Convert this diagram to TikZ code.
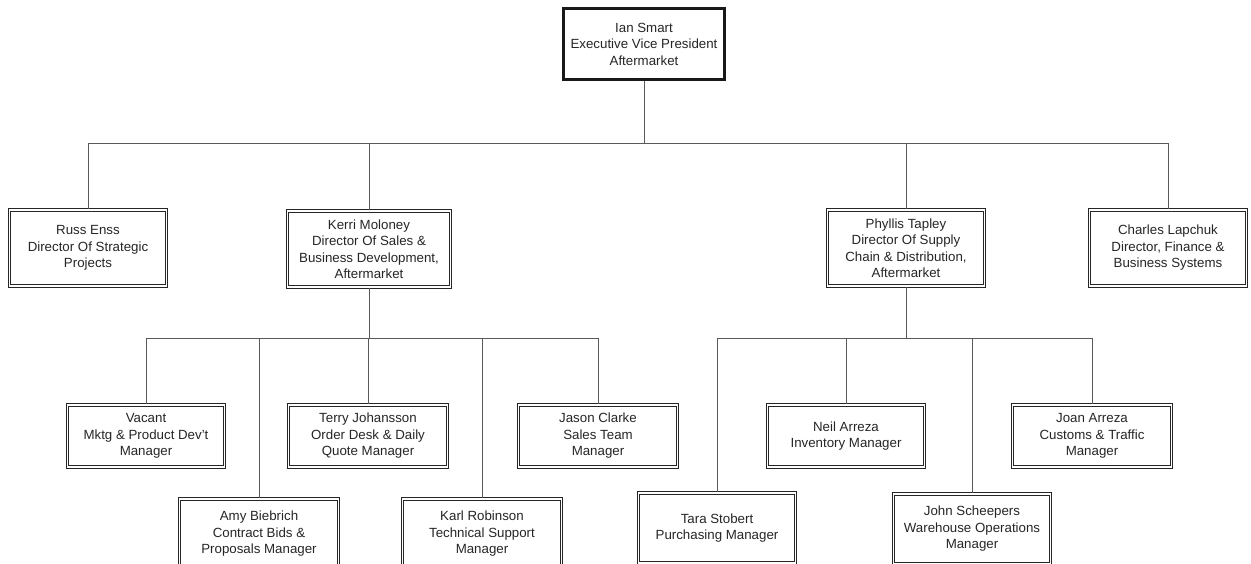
\documentclass[tikz,border=0pt]{standalone}
\usepackage{fontspec}
\setmainfont{Liberation Sans}
\usetikzlibrary{positioning,calc}

\begin{document}
\begin{tikzpicture}[x=1pt, y=-1pt, font=\fontsize{13.3}{16.5}\selectfont]
    % Estilos para los cuadros
    \tikzstyle{jefe} = [draw=black!90, line width=3.4pt, rectangle, fill=white, minimum width=161pt, minimum height=71pt, align=center, inner sep=2pt, text=black!85]
    \tikzstyle{cuadro} = [draw=black!85, line width=1.1pt, double=white, double distance=1.4pt, rectangle, fill=white, minimum width=157pt, minimum height=62pt, align=center, inner sep=2pt, text=black!85]
    \tikzstyle{director} = [cuadro, minimum height=76pt]
    \tikzstyle{abajo} = [cuadro, minimum height=70pt]
    \tikzstyle{linea} = [black!65, line width=0.7pt]

    \useasboundingbox (0,0) rectangle (1251,563);

    % --- Direccion general ---
    \node [jefe] (ian) at (644,44) {Ian Smart\\Executive Vice President\\Aftermarket};

    % --- Directores ---
    \node [director] (russ) at (88,248) {Russ Enss\\Director Of Strategic\\Projects};
    \node [director, minimum width=163pt] (kerri) at (369,249) {Kerri Moloney\\Director Of Sales \&\\Business Development,\\Aftermarket};
    \node [director] (phyllis) at (906,248) {Phyllis Tapley\\Director Of Supply\\Chain \& Distribution,\\Aftermarket};
    \node [director] (charles) at (1168,248) {Charles Lapchuk\\Director, Finance \&\\Business Systems};

    % --- Gerentes de ventas ---
    \node [cuadro] (vacant) at (146,436) {Vacant\\Mktg \& Product Dev't\\Manager};
    \node [abajo, minimum width=159pt] (amy) at (259,534) {Amy Biebrich\\Contract Bids \&\\Proposals Manager};
    \node [cuadro, minimum width=159pt] (terry) at (368,436) {Terry Johansson\\Order Desk \& Daily\\Quote Manager};
    \node [abajo, minimum width=159pt] (karl) at (482,534) {Karl Robinson\\Technical Support\\Manager};
    \node [cuadro, minimum width=159pt] (jason) at (598,436) {Jason Clarke\\Sales Team\\Manager};

    % --- Gerentes de suministro ---
    \node [abajo] (tara) at (717,528) {Tara Stobert\\Purchasing Manager};
    \node [cuadro] (neil) at (846,436) {Neil Arreza\\Inventory Manager};
    \node [abajo] (john) at (972,529) {John Scheepers\\Warehouse Operations\\Manager};
    \node [cuadro, minimum width=159pt] (joan) at (1092,436) {Joan Arreza\\Customs \& Traffic\\Manager};

    % --- Conexiones ---
    \coordinate (bus) at (644,143);
    \coordinate (busK) at (369,338);
    \coordinate (busP) at (906,338);

    \draw [linea] (ian.south) -- (bus);
    \foreach \n in {russ,kerri,phyllis,charles}
        \draw [linea] (bus) -| (\n.north);

    \draw [linea] (kerri.south) -- (busK);
    \foreach \n in {vacant,amy,terry,karl,jason}
        \draw [linea] (busK) -| (\n.north);

    \draw [linea] (phyllis.south) -- (busP);
    \foreach \n in {tara,neil,john,joan}
        \draw [linea] (busP) -| (\n.north);

\end{tikzpicture}
\end{document}
